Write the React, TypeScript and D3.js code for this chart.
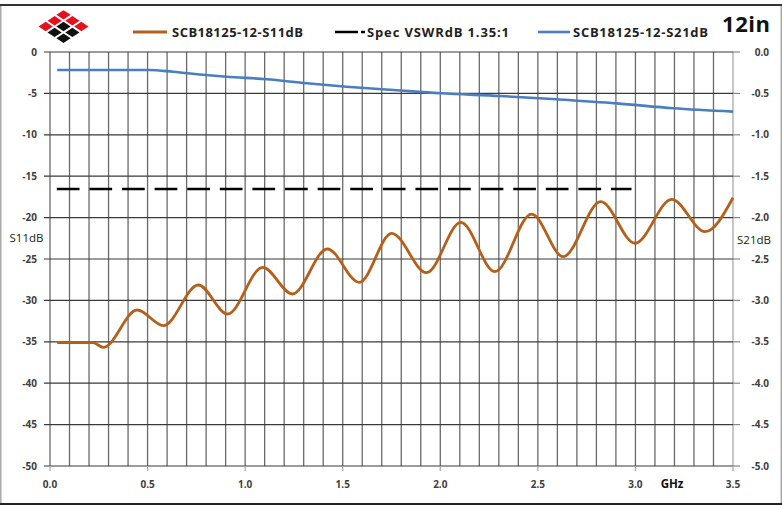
import React from "react";
import * as d3 from "d3";

const s11Freq = [0.037, 0.22, 0.273, 0.447, 0.581, 0.76, 0.91, 1.09, 1.242, 1.421, 1.585, 1.751, 1.93, 2.105, 2.28, 2.468, 2.63, 2.822, 2.998, 3.186, 3.357, 3.5];
const s11dB = [-35.1, -35.1, -35.67, -31.16, -33.05, -28.14, -31.64, -26.0, -29.23, -23.79, -27.82, -21.9, -26.65, -20.57, -26.53, -19.57, -24.72, -18.08, -23.1, -17.8, -21.7, -17.6];

const s21Freq = [0.037, 0.51, 0.63, 0.8, 0.905, 1.11, 1.315, 1.52, 1.76, 2.0, 2.306, 2.597, 2.904, 3.194, 3.5];
const s21dB = [-0.217, -0.217, -0.238, -0.278, -0.298, -0.33, -0.378, -0.419, -0.459, -0.499, -0.531, -0.571, -0.62, -0.68, -0.72];

const specFreq = [0.035, 2.98];
const specDB = [-16.54, -16.54];

const xTicks = [0, 0.5, 1.0, 1.5, 2.0, 2.5, 3.0, 3.5];
const xMinor = d3.range(0, 36).map((i) => i / 10);
const leftTicks = [0, -5, -10, -15, -20, -25, -30, -35, -40, -45, -50];
const rightTicks = [0, -0.5, -1.0, -1.5, -2.0, -2.5, -3.0, -3.5, -4.0, -4.5, -5.0];

const legendNames = ["SCB18125-12-S11dB", "Spec VSWRdB 1.35:1", "SCB18125-12-S21dB"];
const titleText = "12in";

const ORANGE = "#b5601a";
const BLUE = "#4a7ebf";
const FONT = "'Open Sans', 'DejaVu Sans', sans-serif";

function Logo({ cx, top }: { cx: number; top: number }) {
  const hw = 8.9;
  const hh = 5.85;
  const cells: JSX.Element[] = [];
  for (let i = 0; i < 3; i++) {
    for (let j = 0; j < 3; j++) {
      const s = i + j;
      const red = s <= 1 || (s === 2 && i !== j);
      const x = cx + (i - j) * hw;
      const y = top + hh + s * hh;
      const k = 0.8;
      const pts = [
        [x, y - hh * k],
        [x + hw * k, y],
        [x, y + hh * k],
        [x - hw * k, y],
      ]
        .map((p) => p.join(","))
        .join(" ");
      cells.push(<polygon key={`${i}-${j}`} points={pts} fill={red ? "#e3101e" : "#111"} />);
    }
  }
  return <g>{cells}</g>;
}

export default function App() {
  const W = 782;
  const H = 506;
  const x = d3.scaleLinear().domain([0, 3.5]).range([50, 733]);
  const yL = d3.scaleLinear().domain([-50, 0]).range([466, 52]);
  const yR = d3.scaleLinear().domain([-5, 0]).range([466, 52]);

  const s11Line = d3
    .line<number>()
    .x((_, i) => x(s11Freq[i]))
    .y((d) => yL(d))
    .curve(d3.curveMonotoneX);
  const s21Line = d3
    .line<number>()
    .x((_, i) => x(s21Freq[i]))
    .y((d) => yR(d))
    .curve(d3.curveMonotoneX);
  const specLine = d3
    .line<number>()
    .x((_, i) => x(specFreq[i]))
    .y((d) => yL(d));

  const gridColor = "#6a6a6a";
  const tickText = "#404040";

  return (
    <div>
      <style>{`body{margin:0}`}</style>
      <svg width={W} height={H} style={{ display: "block", fontFamily: FONT }}>
        <rect x={0} y={0} width={W} height={H} fill="#fff" />
        {/* frame */}
        <rect x={0.75} y={5} width={W - 1.5} height={499} fill="none" stroke="#aaa" strokeWidth={1.5} />
        <line x1={0} x2={W} y1={5} y2={5} stroke="#333" strokeWidth={2} />
        <line x1={0} x2={W} y1={504} y2={504} stroke="#222" strokeWidth={2} />

        <Logo cx={63.5} top={9} />

        {/* grid verticals */}
        {xMinor.map((v) => (
          <line key={`v${v}`} x1={x(v)} x2={x(v)} y1={yL(0)} y2={yL(-50)} stroke={v === 3.5 ? "#aaa" : gridColor} strokeWidth={1.3} />
        ))}
        {/* grid horizontals */}
        {leftTicks.map((v) => (
          <line key={`h${v}`} x1={x(0) - 6} x2={x(3.5)} y1={yL(v)} y2={yL(v)} stroke="#3a3a3a" strokeWidth={1.2} />
        ))}
        {/* right axis ticks */}
        {rightTicks.map((v) => (
          <line key={`r${v}`} x1={x(3.5)} x2={x(3.5) + 7} y1={yR(v)} y2={yR(v)} stroke="#888" strokeWidth={1.2} />
        ))}
        {/* bottom ticks */}
        {xTicks.map((v) => (
          <line key={`bt${v}`} x1={x(v)} x2={x(v)} y1={yL(-50)} y2={yL(-50) + 5} stroke="#aaa" strokeWidth={1.3} />
        ))}

        {/* series */}
        <path d={specLine(specDB) || ""} fill="none" stroke="#000" strokeWidth={2.6} strokeDasharray="22.7 9.9" />
        <path d={s21Line(s21dB) || ""} fill="none" stroke={BLUE} strokeWidth={2.6} strokeLinejoin="round" />
        <path d={s11Line(s11dB) || ""} fill="none" stroke={ORANGE} strokeWidth={2.8} strokeLinejoin="round" />

        {/* left tick labels */}
        {leftTicks.map((v) => (
          <text key={`lt${v}`} x={37} y={yL(v)} dy="0.35em" textAnchor="end" fontSize={10} fontWeight="bold" fill={tickText}>
            {v === 0 ? "0" : `-${Math.abs(v)}`}
          </text>
        ))}
        {/* right tick labels */}
        {rightTicks.map((v) => (
          <text key={`rt${v}`} x={769} y={yR(v)} dy="0.35em" textAnchor="end" fontSize={10} fontWeight="bold" fill={tickText}>
            {v === 0 ? "0.0" : `-${Math.abs(v).toFixed(1)}`}
          </text>
        ))}
        {/* bottom tick labels */}
        {xTicks.map((v) => (
          <text key={`xl${v}`} x={x(v)} y={484} dy="0.35em" textAnchor="middle" fontSize={10} fontWeight="bold" fill={tickText}>
            {v.toFixed(1)}
          </text>
        ))}
        <text x={672} y={484} dy="0.35em" textAnchor="middle" fontSize={11.5} fontWeight="bold" fill="#111">
          GHz
        </text>

        {/* axis titles */}
        <text x={26.5} y={238} dy="0.35em" textAnchor="middle" fontSize={11.5} fill="#222">
          S11dB
        </text>
        <text x={754} y={240} dy="0.35em" textAnchor="middle" fontSize={11.5} fill="#222">
          S21dB
        </text>

        {/* legend */}
        <line x1={133} x2={167} y1={32} y2={32} stroke={ORANGE} strokeWidth={2.8} />
        <text x={172} y={37} fontSize={13} fontWeight="bold" fill="#222" textLength={131} lengthAdjust="spacing">
          {legendNames[0]}
        </text>
        <line x1={335} x2={365} y1={32} y2={32} stroke="#000" strokeWidth={2.6} strokeDasharray="23 3" />
        <text x={367} y={37} fontSize={13} fontWeight="bold" fill="#222" textLength={142} lengthAdjust="spacing">
          {legendNames[1]}
        </text>
        <line x1={538} x2={570} y1={32} y2={32} stroke={BLUE} strokeWidth={2.6} />
        <text x={573} y={37} fontSize={13} fontWeight="bold" fill="#222" textLength={135} lengthAdjust="spacing">
          {legendNames[2]}
        </text>
        <text x={722} y={32} fontSize={22} fontWeight="bold" fill="#111" textLength={48} lengthAdjust="spacing">
          {titleText}
        </text>
      </svg>
    </div>
  );
}
